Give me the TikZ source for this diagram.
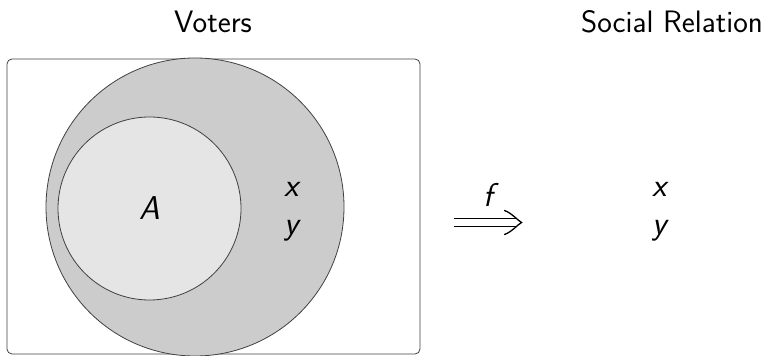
\documentclass[tikz,border=0pt]{standalone}
\usepackage{tikz}
\usetikzlibrary{positioning,arrows.meta}

\begin{document}
\begin{tikzpicture}[
		x=0.5pt, y=-0.5pt,
		every node/.style={font=\sffamily\fontsize{15.5}{18}\selectfont},
		setbig/.style={circle, draw=black!75, fill=black!20, minimum size=149pt, inner sep=0pt},
		setA/.style={circle, draw=black!75, fill=black!10, minimum size=91.5pt, inner sep=0pt, font=\sffamily\itshape\fontsize{16.5}{19}\selectfont},
		lbl/.style={anchor=base, font=\sffamily\itshape\fontsize{16.5}{19}\selectfont},
		imp/.style={draw=black, double=white, double distance=3.6pt, line width=0.65pt},
		imptip/.style={draw=black, line width=0.65pt, line cap=round}
		]
		\useasboundingbox (0,0) rectangle (763,356);
		\node (voters) at (213,22) {Voters};
		\node (social) at (672,22) {Social Relation};
		
		\draw[rounded corners=2.5pt, draw=black!75] (7,59) rectangle (420,354);
		\node[setbig] (all) at (195,207) {};
		\node[setA] (A) at (149.5,208.5) {A};
		\node[lbl] (vx) at (292,197) {x};
		\node[lbl] (vy) at (292,235) {y};
		
		% f arrow
		\coordinate (fstart) at (454,222.5);
		\coordinate (fend) at (521.5,222.5);
		\draw[imp] (fstart) -- ([xshift=-3pt]fend);
		\draw[imptip] (fend) ++(-17,-12) .. controls +(8,3) and +(-5,-3) .. (fend)
			.. controls +(-5,3) and +(8,-3) .. ++(-17,12);
		\node[lbl] (f) at (488,207) {f};
		
		\node[lbl] (rx) at (660,197) {x};
		\node[lbl] (ry) at (660,235) {y};
	\end{tikzpicture}
\end{document}
